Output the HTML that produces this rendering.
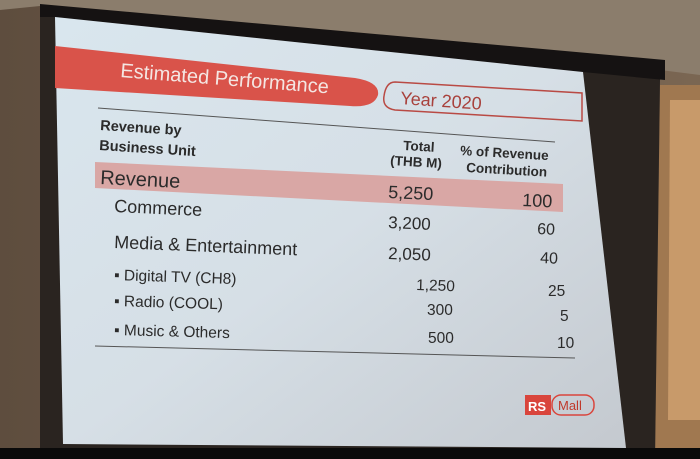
<!DOCTYPE html>
<html><head><style>
html,body{margin:0;padding:0;background:#000;}
svg{display:block}
text{font-family:"Liberation Sans",sans-serif;}
</style></head><body>
<svg width="700" height="459" viewBox="0 0 700 459">
<defs>
<linearGradient id="scr" x1="0" y1="0" x2="1" y2="1">
<stop offset="0" stop-color="#d9e6ee"/><stop offset="0.5" stop-color="#d6dfe6"/><stop offset="1" stop-color="#c4c9cf"/>
</linearGradient>
<linearGradient id="wall" x1="0" y1="0" x2="1" y2="0">
<stop offset="0" stop-color="#5e4d3e"/><stop offset="1" stop-color="#7a6652"/>
</linearGradient>
</defs>
<rect width="700" height="459" fill="url(#wall)"/>
<polygon points="0,0 700,0 700,75 660,70 40,6 0,10" fill="#8b7d6c"/>
<polygon points="660,85 700,85 700,459 655,459" fill="#a07850"/>
<polygon points="670,100 700,100 700,420 668,420" fill="#c89a6a"/>
<!-- frame -->
<polygon points="40,6 665,62 660,80 655,459 40,459" fill="#2a2420"/>
<polygon points="40,4 665,60 665,80 583,72 55,17 40,17" fill="#151212"/>
<!-- screen -->
<polygon points="55,17 583,72 626,448 63,444" fill="url(#scr)"/>
<rect x="0" y="448" width="700" height="11" fill="#0a0a0a"/>
<!-- header -->
<path d="M55,46 L355,78 Q380,82 378,95 Q374,108 350,106 L55,88 Z" fill="#d9534a"/>
<text x="120" y="77" transform="rotate(4.5 120 77)" font-size="20" fill="#f4e6e2">Estimated Performance</text>
<path d="M395,82 L582,93 L582,121 L395,110 Q382,108 384,96 Q386,82 395,82 Z" fill="none" stroke="#b94a44" stroke-width="1.5"/>
<text x="400" y="104" transform="rotate(4 400 104)" font-size="18" fill="#a8413c">Year 2020</text>
<!-- table header -->
<line x1="98" y1="108" x2="555" y2="142" stroke="#555" stroke-width="1"/>
<g font-weight="bold" fill="#2b2b2b" font-size="14.5">
<text x="100" y="130" transform="rotate(3.6 100 130)">Revenue by</text>
<text x="99" y="150" transform="rotate(3.6 99 150)">Business Unit</text>
<text x="403" y="150" transform="rotate(3.4 403 150)" font-size="13.5">Total</text>
<text x="390" y="165" transform="rotate(3.4 390 165)" font-size="13.5">(THB M)</text>
<text x="460" y="155" transform="rotate(3.3 460 155)" font-size="13.5">% of Revenue</text>
<text x="466" y="172" transform="rotate(3.3 466 172)" font-size="13.5">Contribution</text>
</g>
<polygon points="95,162 563,184 563,212 95,188" fill="#d9a7a5"/>
<g fill="#2b2b2b">
<text x="100" y="184" transform="rotate(2.8 100 184)" font-size="20">Revenue</text>
<text x="388" y="198" transform="rotate(2.7 388 198)" font-size="18">5,250</text>
<text x="522" y="206" transform="rotate(2.7 522 206)" font-size="18">100</text>
<text x="114" y="212" transform="rotate(2.6 114 212)" font-size="18">Commerce</text>
<text x="388" y="228" transform="rotate(2.5 388 228)" font-size="17">3,200</text>
<text x="537" y="234" transform="rotate(2.5 537 234)" font-size="16">60</text>
<text x="114" y="248" transform="rotate(2.3 114 248)" font-size="18">Media &amp; Entertainment</text>
<text x="388" y="259" transform="rotate(2.2 388 259)" font-size="17">2,050</text>
<text x="540" y="263" transform="rotate(2.2 540 263)" font-size="16">40</text>
<g font-size="15.5">
<text x="114" y="280" transform="rotate(1.9 114 280)">▪  Digital TV (CH8)</text>
<text x="416" y="290" transform="rotate(1.8 416 290)">1,250</text>
<text x="548" y="296">25</text>
<text x="114" y="306" transform="rotate(1.7 114 306)">▪  Radio (COOL)</text>
<text x="427" y="315">300</text>
<text x="560" y="321">5</text>
<text x="114" y="335" transform="rotate(1.5 114 335)">▪  Music &amp; Others</text>
<text x="428" y="343">500</text>
<text x="557" y="348">10</text>
</g>
</g>
<line x1="95" y1="346" x2="575" y2="358" stroke="#555" stroke-width="1"/>
<!-- logo -->
<rect x="525" y="395" width="26" height="20" fill="#d9453c"/>
<text x="528" y="411" font-size="13" font-weight="bold" fill="#fff">RS</text>
<rect x="552" y="395" width="42" height="20" rx="9" fill="none" stroke="#d9453c" stroke-width="1.5"/>
<text x="558" y="410" font-size="13" fill="#c0392b">Mall</text>
</svg>
</body></html>
